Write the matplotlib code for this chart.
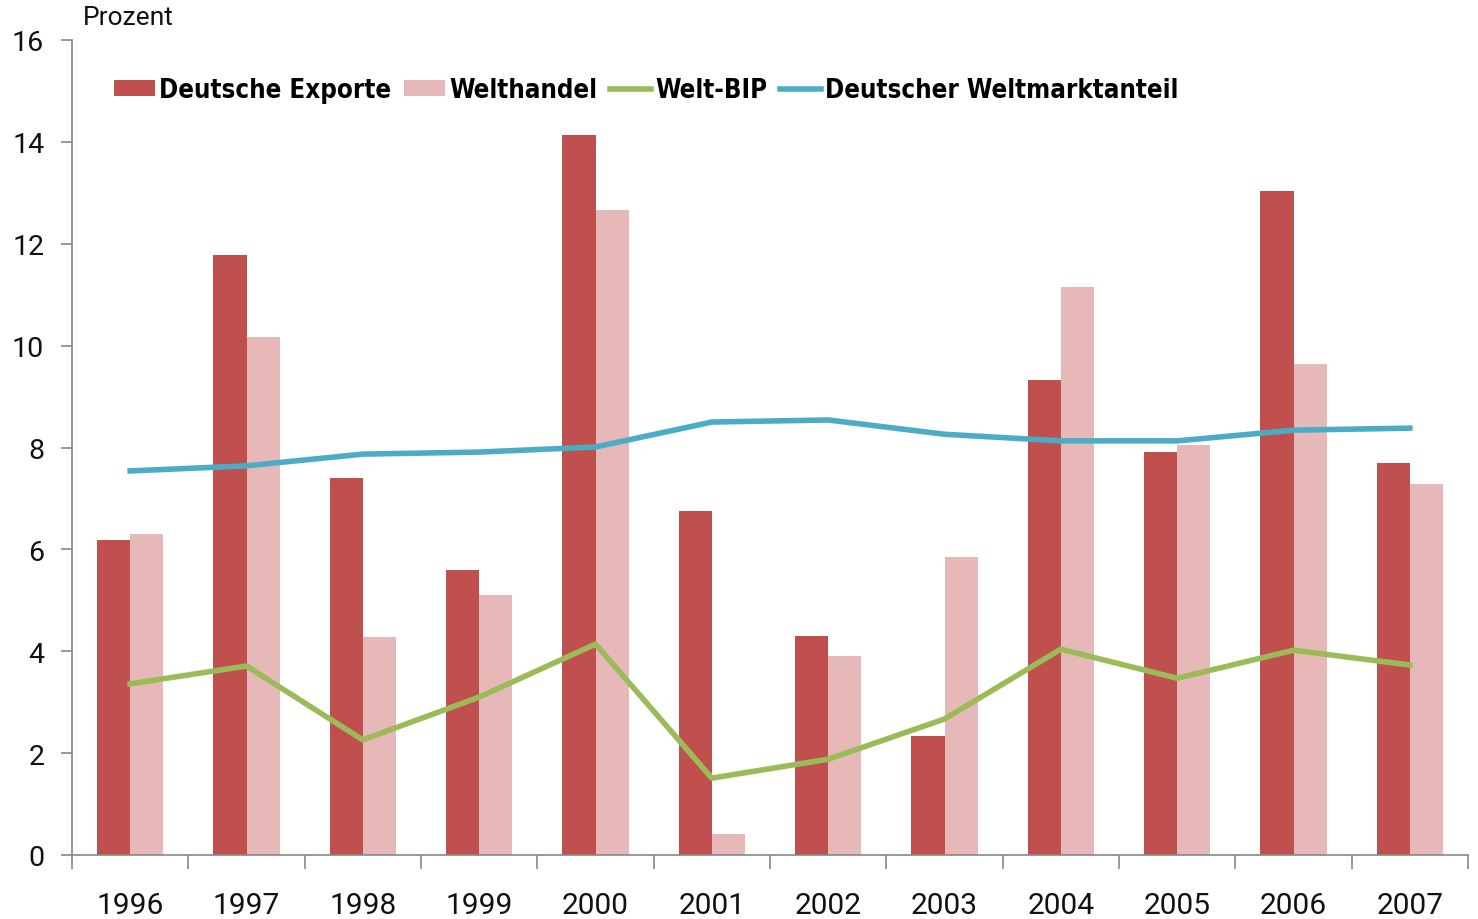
import numpy as np
import matplotlib
matplotlib.use('Agg')
from matplotlib import pyplot as plt
from matplotlib import font_manager

years = ['1996', '1997', '1998', '1999', '2000', '2001', '2002', '2003', '2004', '2005', '2006', '2007']
exporte = [6.18, 11.78, 7.40, 5.59, 14.13, 6.75, 4.30, 2.34, 9.32, 7.91, 13.03, 7.70]
welthandel = [6.30, 10.17, 4.28, 5.10, 12.66, 0.41, 3.91, 5.85, 11.15, 8.05, 9.64, 7.28]
welt_bip = [3.36, 3.71, 2.26, 3.10, 4.14, 1.51, 1.88, 2.67, 4.04, 3.47, 4.02, 3.73]
weltmarktanteil = [7.54, 7.64, 7.87, 7.91, 8.01, 8.50, 8.54, 8.26, 8.13, 8.13, 8.34, 8.38]

# look for a condensed bold face for the legend
legend_prop = None
for f in font_manager.fontManager.ttflist:
    if 'condensed' in str(f.stretch).lower() or 'Condensed' in f.fname or 'Narrow' in f.name:
        if f.weight in ('bold', 700) or 'Bold' in f.fname:
            if 'Oblique' not in f.fname and 'Italic' not in f.fname:
                legend_prop = font_manager.FontProperties(fname=f.fname, size=18.5)
                break
if legend_prop is None:
    legend_prop = font_manager.FontProperties(family='Roboto', weight='bold', size=18.5)

tick_font = 'Roboto'

fig = plt.figure(figsize=(14.78, 9.2), dpi=100)
ax = fig.add_axes([72/1478, 1 - 856/920, (1468 - 72)/1478, (856 - 41)/920])

x = np.arange(len(years))
w = 0.285
b1 = ax.bar(x - w/2, exporte, w, color='#C0504D', label='Deutsche Exporte')
b2 = ax.bar(x + w/2, welthandel, w, color='#E6B9B8', label='Welthandel')
l1, = ax.plot(x, welt_bip, color='#9BBB59', lw=4, label='Welt-BIP')
l2, = ax.plot(x, weltmarktanteil, color='#4BACC6', lw=4, label='Deutscher Weltmarktanteil')

ax.set_xlim(-0.5, len(years) - 0.5)
ax.set_ylim(0, 16)
ax.set_yticks(range(0, 17, 2))
ax.set_xticks(x)
ax.set_xticklabels(years)
ax.set_xticks(np.arange(-0.5, len(years), 1), minor=True)
ax.tick_params(axis='x', which='major', length=0, pad=26)
ax.tick_params(axis='x', which='minor', length=10, width=1.2, color='#888888', direction='out')
ax.tick_params(axis='y', length=8, width=1.2, color='#888888', direction='out', pad=12)
for lab in ax.get_xticklabels():
    lab.set_fontfamily(tick_font)
    lab.set_fontsize(21.5)
    lab.set_color('#111111')
for lab in ax.get_yticklabels():
    lab.set_fontfamily(tick_font)
    lab.set_fontsize(20.5)
    lab.set_color('#111111')
for s in ['top', 'right']:
    ax.spines[s].set_visible(False)
for s in ['left', 'bottom']:
    ax.spines[s].set_color('#888888')
    ax.spines[s].set_linewidth(1.2)

fig.text(83/1478, 1 - 18/920, 'Prozent', fontsize=19, family=tick_font, va='center', ha='left', color='#111111')

leg = ax.legend([b1, b2, l1, l2], ['Deutsche Exporte', 'Welthandel', 'Welt-BIP', 'Deutscher Weltmarktanteil'],
                loc='upper left', bbox_to_anchor=(0.023, 0.967), ncol=4, frameon=False,
                prop=legend_prop, handlelength=1.6, handleheight=0.6, handletextpad=0.15,
                columnspacing=0.5, borderaxespad=0)

fig.savefig('out.png', dpi=100)
